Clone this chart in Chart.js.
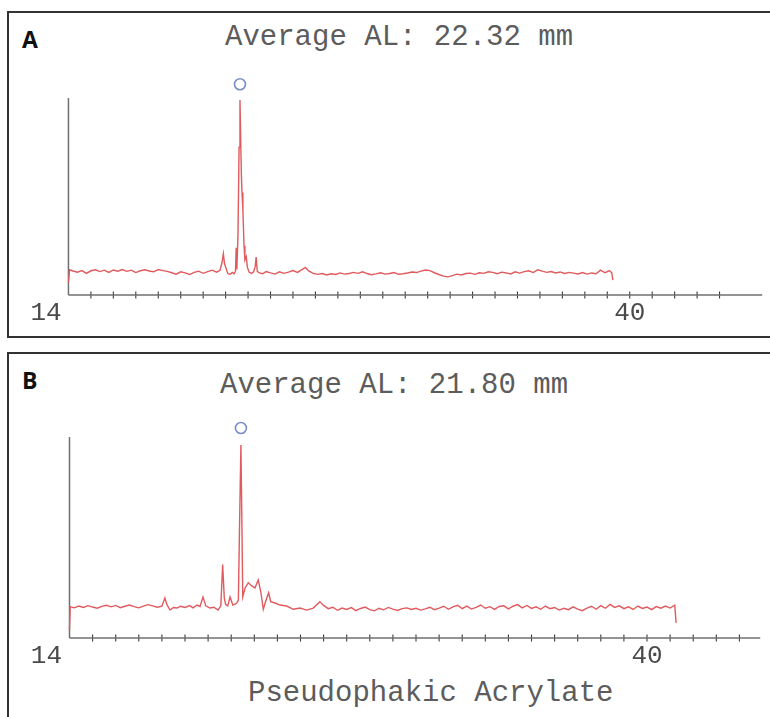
<!DOCTYPE html>
<html>
<head>
<meta charset="utf-8">
<script src="https://cdn.jsdelivr.net/npm/chart.js@4.4.0/dist/chart.umd.min.js"></script>
<style>
  html, body { margin: 0; padding: 0; background: #fff; width: 770px; height: 717px; overflow: hidden; }
  .box { position: absolute; border: 2px solid #333; box-sizing: border-box; }
  .lbl { position: absolute; font-family: "Open Sans", "Noto Sans", sans-serif; font-weight: 700; font-size: 23px; line-height: 1; color: #111; }
  .ttl { position: absolute; font-family: "Liberation Mono", "Courier New", monospace; font-size: 29px; line-height: 1; color: #5c5c5c; white-space: pre; }
  canvas { position: absolute; left: 0; }
</style>
</head>
<body>
<div class="box" style="left:7px; top:11px; width:800px; height:327px;"></div>
<div class="box" style="left:7px; top:352px; width:800px; height:400px;"></div>
<div class="lbl" style="left:22px; top:28px;">A</div>
<div class="lbl" style="left:22px; top:369px;">B</div>
<div class="ttl" id="titleA" style="left:225px; top:23px;"></div>
<div class="ttl" id="titleB" style="left:220px; top:371px;"></div>
<div class="ttl" id="xTitleB" style="left:248px; top:679px;"></div>
<div style="position:absolute; left:0; top:0; width:770px; height:340px;"><canvas id="chartA" width="770" height="340"></canvas></div>
<div style="position:absolute; left:0; top:345px; width:770px; height:372px;"><canvas id="chartB" width="770" height="372"></canvas></div>
<script>
// ---------- text ----------
const titleA = "Average AL: 22.32 mm";
const titleB = "Average AL: 21.80 mm";
const xAxisTitleB = "Pseudophakic Acrylate";
const tickLabels = [14, 40];

// ---------- axes (mm / amplitude %) ----------
const axisStartA = 15.0, axisEndA = 45.9;
const axisStartB = 15.0, axisEndB = 44.9;
const yAxisTop = 100, yScaleMax = 112;
const minorTicks = [16,17,18,19,20,21,22,23,24,25,26,27,28,29,30,31,32,33,34,35,36,37,38,39,40,41,42,43,44];

// ---------- panel A trace ----------
const posA = [15.0,15.05,15.2,15.4,15.6,15.8,16.0,16.2,16.4,16.6,16.8,17.0,17.2,17.4,17.6,17.8,18.0,18.2,18.4,18.6,18.8,19.0,19.2,19.4,19.6,19.8,20.0,20.2,20.4,20.6,20.8,21.0,21.2,21.4,21.6,
  21.75,21.85,21.9,21.95,22.02,22.1,22.2,22.3,22.38,22.44,22.47,22.5,22.55,22.6,22.64,22.67,22.7,22.73,22.77,22.82,22.86,22.92,22.97,23.05,23.15,23.25,23.32,23.36,23.41,23.5,23.65,23.8,24.0,24.2,24.4,24.6,24.8,25.0,25.2,25.4,25.55,25.7,25.9,26.1,
  26.3,26.5,26.7,26.9,27.1,27.3,27.5,27.7,27.9,28.1,28.3,28.5,28.7,28.9,29.1,29.3,29.5,29.7,29.9,30.1,30.3,30.5,30.7,30.9,31.1,31.3,31.5,31.7,31.9,32.1,32.3,32.5,32.7,32.9,33.1,33.3,33.5,33.7,33.9,34.1,34.3,34.5,34.7,34.9,35.1,35.3,35.5,35.7,35.9,36.1,36.3,36.5,36.7,36.9,37.1,37.3,37.5,37.7,37.9,38.1,38.3,38.5,38.7,38.9,39.1,39.2,39.25];
const ampA = [6.5,12.8,12.2,11.6,12.4,11.0,12.3,12.8,11.9,12.6,11.5,12.7,12.1,12.9,12.0,12.6,11.4,12.3,12.8,12.2,11.8,12.9,12.4,12.0,11.3,10.6,11.8,11.2,10.4,11.5,12.1,11.0,11.9,12.6,11.6,
  12.5,17.0,21.0,16.0,13.5,10.8,10.5,11.5,10.8,12.0,24.0,13.0,30.0,75.0,99.0,80.0,62.0,52.0,43.0,25.0,17.8,19.5,14.0,11.5,11.0,11.8,14.5,19.3,12.0,11.2,10.8,11.9,11.2,10.6,11.8,11.0,11.6,12.4,11.5,12.9,14.0,12.2,11.0,10.5,
  10.9,10.2,10.8,10.4,11.2,10.6,10.9,11.5,11.0,11.8,10.9,10.3,10.7,11.3,10.6,10.9,11.4,10.5,10.8,11.2,11.7,11.4,12.1,12.7,12.4,11.3,10.4,9.6,9.2,9.8,10.6,10.2,10.9,11.1,10.5,11.3,11.0,11.8,11.5,10.8,11.6,11.2,10.7,11.8,11.1,11.9,12.3,11.4,12.8,12.1,11.5,11.9,11.2,11.7,10.9,11.5,11.1,10.7,11.4,10.6,11.2,10.8,12.6,11.3,12.4,11.2,7.6];
const peakMarkerA = { x: 22.64, y: 107 };

// ---------- panel B trace ----------
const posB = [15.0,15.03,15.2,15.4,15.6,15.8,16.0,16.2,16.4,16.6,16.8,17.0,17.2,17.4,17.6,17.8,18.0,18.2,18.4,18.6,18.8,19.0,19.13,19.22,19.35,19.5,19.66,19.8,20.0,20.2,20.35,20.52,20.65,20.78,20.9,21.08,21.25,21.43,21.55,21.63,21.7,21.76,21.85,21.95,22.07,22.18,22.24,22.31,22.36,22.42,22.46,22.5,22.6,22.74,22.89,23.03,23.17,23.28,23.39,23.51,23.62,23.71,23.9,24.11,24.4,24.69,24.98,25.27,25.55,25.84,
  26.0,26.2,26.4,26.6,26.8,27.0,27.2,27.4,27.6,27.8,28.0,28.2,28.4,28.6,28.8,29.0,29.2,29.4,29.6,29.8,30.0,30.2,30.4,30.6,30.8,31.0,31.2,31.4,31.6,31.8,32.0,32.2,32.4,32.6,32.8,33.0,33.2,33.4,33.6,33.8,34.0,34.2,34.4,34.6,34.8,35.0,35.2,35.4,35.6,35.8,36.0,36.2,36.4,36.6,36.8,37.0,37.2,37.4,37.6,37.8,38.0,38.2,38.4,38.6,38.8,39.0,39.2,39.4,39.6,39.8,40.0,40.2,40.4,40.6,40.8,41.0,41.2,41.26];
const ampB = [4.0,15.6,15.0,15.9,15.2,16.1,15.4,14.8,15.7,16.3,15.5,16.2,15.1,15.8,16.4,15.6,15.0,15.9,16.6,16.0,15.3,15.8,19.9,16.5,13.9,15.2,14.9,15.8,15.2,16.1,15.0,16.4,15.7,20.4,16.0,14.9,15.3,13.9,16.0,36.5,20.0,16.6,16.0,20.4,16.4,17.0,17.4,18.9,55.0,96.0,60.0,20.5,24.9,27.5,25.9,24.9,28.9,23.0,14.3,18.9,22.5,18.1,17.4,16.4,15.9,14.3,14.9,13.9,14.9,18.1,
  16.2,14.6,15.3,13.8,14.9,14.2,15.1,13.6,14.7,15.4,14.1,13.5,14.8,14.0,15.2,14.4,13.7,14.6,15.0,14.2,14.8,13.9,14.5,15.3,14.1,14.9,15.8,14.3,15.5,16.3,14.6,15.9,14.4,15.2,16.4,14.8,15.6,14.2,15.7,16.0,14.5,15.8,16.6,15.0,16.2,14.7,15.5,14.3,15.9,14.6,15.2,13.9,14.8,14.1,15.5,14.4,13.6,14.9,15.8,14.3,16.1,14.8,16.7,15.2,16.0,14.6,15.5,14.2,15.9,14.7,15.4,14.1,15.6,14.8,15.9,14.9,16.3,7.5];
const peakMarkerB = { x: 22.42, y: 104.5 };

document.getElementById('titleA').textContent = titleA;
document.getElementById('titleB').textContent = titleB;
document.getElementById('xTitleB').textContent = xAxisTitleB;

const TRACE = '#e05a5e';
const AXIS = '#6f6f6f';

function pts(xs, ys) { return xs.map((x, i) => ({ x: x, y: ys[i] })); }

function makePanel(id, xs, ys, marker, axisStart, axisEnd, pad) {
  new Chart(document.getElementById(id), {
    type: 'line',
    data: {
      datasets: [
        { data: pts(xs, ys), borderColor: TRACE, borderWidth: 1.4, pointRadius: 0, tension: 0, clip: false, order: 1 },
        { data: [{ x: axisStart, y: 0 }, { x: axisEnd, y: 0 }], borderColor: AXIS, borderWidth: 1.5, pointRadius: 0, clip: false, order: 2 },
        { data: [{ x: axisStart, y: 0 }, { x: axisStart, y: yAxisTop }], borderColor: AXIS, borderWidth: 1.5, pointRadius: 0, clip: false, order: 2 },
        { type: 'scatter', data: minorTicks.map(v => ({ x: v, y: 0 })), pointStyle: 'line', rotation: 90, pointRadius: 3.5,
          borderColor: '#3a3a3a', borderWidth: 1.1, clip: false, order: 3 },
        { type: 'scatter', data: [marker], pointStyle: 'circle', pointRadius: 5.5, borderColor: '#7d8ec6',
          backgroundColor: 'rgba(0,0,0,0)', borderWidth: 1.6, clip: false, order: 0 }
      ]
    },
    options: {
      responsive: false,
      animation: false,
      events: [],
      layout: { padding: pad },
      plugins: { legend: { display: false }, tooltip: { enabled: false }, title: { display: false } },
      scales: {
        x: {
          type: 'linear', min: 14, max: axisEnd,
          border: { display: false },
          grid: { display: false, drawTicks: false },
          afterBuildTicks: s => { s.ticks = tickLabels.map(v => ({ value: v })); },
          afterFit: s => { s.height = 34; },
          ticks: {
            autoSkip: false, maxRotation: 0, minRotation: 0, padding: 3,
            color: '#4a4a4a',
            font: { family: '"Liberation Mono", "Courier New", monospace', size: 26 },
            callback: v => String(v)
          }
        },
        y: { type: 'linear', min: 0, max: yScaleMax, display: false }
      }
    }
  });
}

// chart area: A spans value 0..100 over 197px (top at 98), B over 201px (top at 437)
makePanel('chartA', posA, ampA, peakMarkerA, axisStartA, axisEndA, { left: 46, right: 7.8, top: 74.4, bottom: 11 });
makePanel('chartB', posB, ampB, peakMarkerB, axisStartB, axisEndB, { left: 46.4, right: 9.8, top: 67.9, bottom: 45 });
</script>
</body>
</html>
